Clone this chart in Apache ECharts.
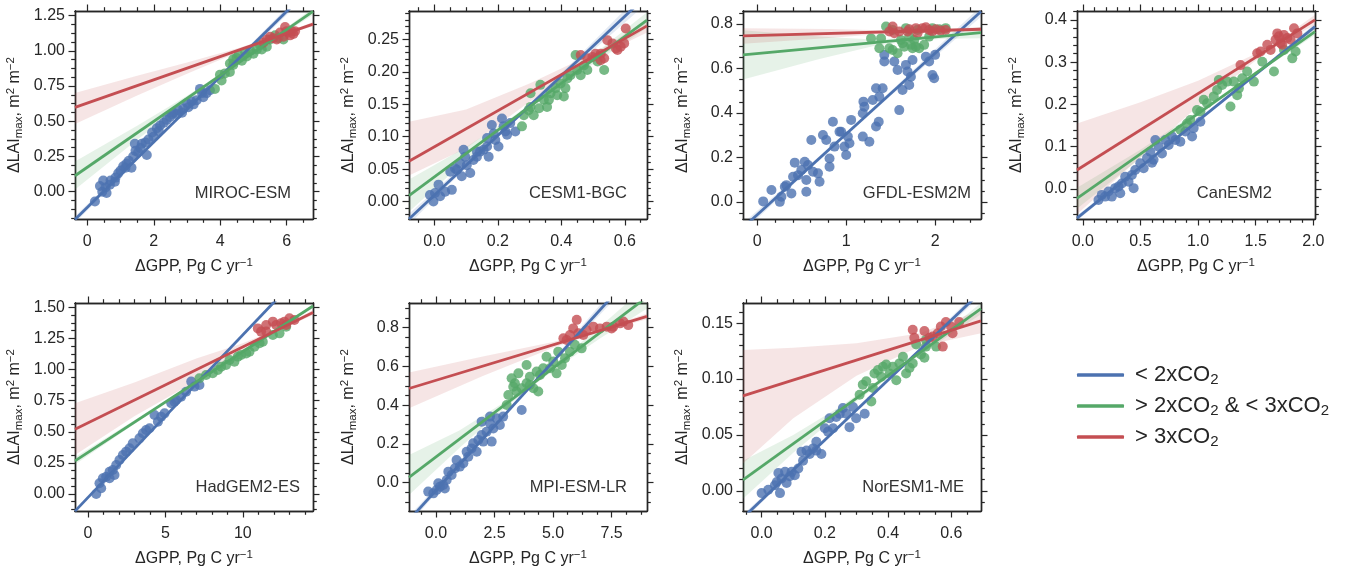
<!DOCTYPE html>
<html lang="en">
<head>
<meta charset="utf-8">
<title>dLAImax vs dGPP</title>
<script src="https://cdn.jsdelivr.net/npm/echarts@6.0.0/dist/echarts.min.js"></script>
<style>
  html, body { margin: 0; padding: 0; background: #fff; }
  #chart { width: 1349px; height: 571px; }
</style>
</head>
<body>
<div id="chart"></div>
<script>
// models, one panel each
var models = ['MIROC-ESM', 'CESM1-BGC', 'GFDL-ESM2M', 'CanESM2', 'HadGEM2-ES', 'MPI-ESM-LR', 'NorESM1-ME'];
var groups = ['< 2xCO2', '> 2xCO2 & < 3xCO2', '> 3xCO2'];

// scatter points [dGPP, dLAImax]
var lowPts = [
  [[0.23,-0.07],[0.38,0.04],[0.45,0.0],[0.48,0.08],[0.55,0.03],[0.58,-0.01],[0.68,0.05],[0.7,0.08],[0.83,0.07],[0.85,0.1],[0.93,0.13],[1.0,0.15],[1.08,0.18],[1.15,0.17],[1.18,0.2],[1.25,0.22],[1.33,0.17],[1.38,0.25],[1.43,0.34],[1.45,0.29],[1.53,0.28],[1.6,0.31],[1.64,0.34],[1.75,0.35],[1.79,0.26],[1.84,0.37],[1.95,0.42],[1.99,0.39],[2.09,0.45],[2.15,0.43],[2.19,0.47],[2.3,0.49],[2.39,0.51],[2.49,0.53],[2.55,0.55],[2.59,0.56],[2.7,0.55],[2.74,0.58],[2.85,0.56],[2.89,0.59],[3.0,0.63],[3.04,0.6],[3.14,0.64],[3.2,0.62],[3.29,0.65],[3.39,0.73],[3.45,0.7],[3.49,0.67],[3.59,0.7],[3.69,0.72]],
  [[-0.014,0.010],[-0.003,0.0],[0.002,0.013],[0.013,0.026],[0.018,0.008],[0.034,0.015],[0.050,0.046],[0.055,0.018],[0.065,0.051],[0.071,0.049],[0.081,0.059],[0.086,0.039],[0.092,0.080],[0.097,0.069],[0.102,0.056],[0.113,0.044],[0.123,0.064],[0.134,0.069],[0.134,0.077],[0.144,0.077],[0.155,0.080],[0.166,0.085],[0.166,0.098],[0.171,0.069],[0.181,0.118],[0.187,0.105],[0.192,0.095],[0.202,0.085],[0.213,0.128],[0.218,0.116],[0.224,0.108],[0.229,0.103],[0.239,0.121],[0.255,0.108]],
  [[0.067,0.003],[0.16,0.054],[0.254,0.001],[0.272,0.024],[0.31,0.069],[0.328,0.076],[0.384,0.039],[0.403,0.114],[0.422,0.177],[0.459,0.121],[0.496,0.144],[0.534,0.181],[0.552,0.099],[0.552,0.046],[0.571,0.166],[0.608,0.279],[0.627,0.136],[0.683,0.129],[0.701,0.091],[0.739,0.301],[0.776,0.279],[0.813,0.196],[0.813,0.159],[0.851,0.361],[0.869,0.249],[0.925,0.316],[0.944,0.316],[0.981,0.249],[1.0,0.211],[1.019,0.294],[1.037,0.264],[1.056,0.369],[1.187,0.294],[1.187,0.399],[1.194,0.451],[1.205,0.428],[1.261,0.271],[1.299,0.458],[1.336,0.339],[1.336,0.511],[1.366,0.361],[1.373,0.473],[1.41,0.511],[1.429,0.661],[1.429,0.631],[1.541,0.631],[1.578,0.593],[1.597,0.413],[1.634,0.503],[1.672,0.616],[1.69,0.586],[1.709,0.526],[1.728,0.563],[1.746,0.638],[1.896,0.653],[1.933,0.631],[1.97,0.571],[1.989,0.556],[2.0,0.661]],
  [[0.136,-0.026],[0.165,-0.014],[0.194,-0.018],[0.223,-0.006],[0.252,-0.018],[0.281,0.002],[0.31,0.006],[0.325,-0.010],[0.339,0.013],[0.368,0.029],[0.397,0.017],[0.426,0.033],[0.441,0.002],[0.455,0.045],[0.499,0.061],[0.528,0.049],[0.557,0.073],[0.586,0.088],[0.6,0.062],[0.614,0.069],[0.629,0.116],[0.658,0.100],[0.687,0.084],[0.716,0.116],[0.745,0.104],[0.774,0.124],[0.803,0.116],[0.846,0.112],[0.89,0.136],[0.948,0.124],[0.962,0.144],[1.02,0.159]],
  [[0.54,0.0],[0.75,0.086],[0.86,0.046],[0.97,0.126],[1.18,0.139],[1.4,0.179],[1.4,0.126],[1.61,0.193],[1.72,0.153],[1.83,0.233],[2.04,0.273],[2.26,0.313],[2.47,0.340],[2.69,0.367],[2.9,0.407],[3.33,0.447],[3.55,0.488],[3.76,0.514],[3.98,0.528],[4.3,0.635],[4.52,0.581],[4.73,0.621],[4.95,0.648],[5.38,0.729],[5.59,0.742],[5.7,0.755],[6.02,0.782],[6.34,0.822],[6.67,0.903],[6.88,0.863],[7.2,0.876]],
  [[-0.33,-0.046],[-0.11,-0.055],[0.03,-0.038],[0.1,-0.003],[0.17,-0.021],[0.31,-0.012],[0.38,-0.030],[0.46,0.014],[0.53,0.057],[0.67,0.040],[0.81,0.074],[0.88,0.117],[1.02,0.083],[1.17,0.100],[1.31,0.160],[1.38,0.134],[1.52,0.177],[1.59,0.203],[1.74,0.160],[1.81,0.220],[1.95,0.246],[1.95,0.315],[2.02,0.212],[2.16,0.263],[2.31,0.306],[2.31,0.341],[2.38,0.212],[2.45,0.280],[2.59,0.332],[2.73,0.298],[2.87,0.341],[3.66,0.375]],
  [[0.0,-0.002],[0.021,0.001],[0.042,0.005],[0.048,0.008],[0.053,0.016],[0.058,-0.002],[0.063,0.011],[0.074,0.017],[0.079,0.007],[0.089,0.013],[0.095,0.017],[0.105,0.014],[0.116,0.020],[0.126,0.035],[0.131,0.027],[0.142,0.036],[0.152,0.033],[0.163,0.038],[0.173,0.036],[0.173,0.044],[0.189,0.033],[0.2,0.056],[0.21,0.053],[0.215,0.065],[0.226,0.056],[0.236,0.066],[0.247,0.069],[0.257,0.074],[0.268,0.069],[0.278,0.057],[0.289,0.075],[0.299,0.065],[0.326,0.069]]
];
var midPts = [
  [[3.84,0.73],[3.99,0.83],[4.04,0.79],[4.14,0.84],[4.29,0.91],[4.29,0.85],[4.39,0.94],[4.39,0.9],[4.49,0.95],[4.55,0.97],[4.65,0.93],[4.75,0.99],[4.8,0.96],[4.9,1.0],[5.0,0.98],[5.1,1.01],[5.2,1.04],[5.25,1.01],[5.4,1.03],[5.5,1.08],[5.65,1.11],[5.75,1.09],[5.9,1.08]],
  [[0.276,0.116],[0.282,0.133],[0.297,0.141],[0.303,0.167],[0.303,0.146],[0.313,0.133],[0.33,0.144],[0.334,0.180],[0.345,0.157],[0.355,0.146],[0.361,0.157],[0.366,0.167],[0.382,0.175],[0.387,0.164],[0.398,0.182],[0.408,0.162],[0.413,0.175],[0.419,0.190],[0.429,0.195],[0.445,0.226],[0.45,0.203],[0.461,0.195],[0.471,0.210],[0.482,0.203],[0.514,0.216],[0.535,0.203]],
  [[1.28,0.735],[1.373,0.691],[1.392,0.735],[1.448,0.788],[1.485,0.691],[1.522,0.683],[1.522,0.773],[1.578,0.668],[1.616,0.728],[1.634,0.713],[1.653,0.698],[1.672,0.781],[1.709,0.743],[1.728,0.706],[1.746,0.691],[1.765,0.728],[1.784,0.698],[1.802,0.773],[1.821,0.691],[1.877,0.706],[1.933,0.743],[1.97,0.781],[2.045,0.776],[2.119,0.781]],
  [[0.846,0.140],[0.904,0.155],[0.933,0.163],[0.991,0.187],[1.02,0.183],[1.049,0.211],[1.078,0.203],[1.136,0.219],[1.165,0.234],[1.18,0.258],[1.209,0.246],[1.252,0.254],[1.281,0.195],[1.31,0.254],[1.339,0.222],[1.354,0.238],[1.383,0.262],[1.426,0.278],[1.484,0.254],[1.557,0.301],[1.658,0.278],[1.745,0.329],[1.817,0.309],[1.846,0.325]],
  [[7.2,0.930],[7.63,0.956],[8.06,0.970],[8.39,0.997],[8.6,1.023],[8.92,1.037],[9.14,1.077],[9.46,1.063],[9.68,1.104],[9.89,1.117],[10.22,1.130],[10.43,1.144],[10.75,1.184],[11.08,1.211],[11.29,1.224],[11.94,1.278],[12.37,1.291],[12.8,1.345]],
  [[3.02,0.401],[3.09,0.452],[3.23,0.539],[3.30,0.495],[3.37,0.513],[3.44,0.470],[3.52,0.564],[3.66,0.487],[3.87,0.513],[3.87,0.607],[4.01,0.504],[4.01,0.547],[4.16,0.487],[4.30,0.573],[4.37,0.470],[4.44,0.556],[4.58,0.590],[4.72,0.650],[4.87,0.590],[5.01,0.625],[5.15,0.564],[5.22,0.676],[5.37,0.607],[5.51,0.642],[5.72,0.676],[5.93,0.711],[6.22,0.693]],
  [[0.31,0.086],[0.32,0.095],[0.331,0.098],[0.347,0.080],[0.352,0.092],[0.357,0.105],[0.368,0.108],[0.378,0.102],[0.384,0.111],[0.394,0.113],[0.405,0.105],[0.415,0.111],[0.426,0.099],[0.436,0.114],[0.447,0.120],[0.457,0.105],[0.468,0.110],[0.478,0.114],[0.489,0.131],[0.504,0.122],[0.515,0.119],[0.52,0.129],[0.52,0.135],[0.552,0.129]]
];
var highPts = [
  [[5.3,1.06],[5.4,1.08],[5.5,1.1],[5.6,1.09],[5.7,1.08],[5.8,1.13],[5.9,1.1],[5.95,1.17],[6.0,1.14],[6.05,1.13],[6.1,1.11],[6.15,1.14],[6.2,1.12],[6.25,1.14]],
  [[0.461,0.226],[0.482,0.221],[0.498,0.223],[0.508,0.228],[0.524,0.218],[0.524,0.228],[0.535,0.221],[0.545,0.249],[0.561,0.244],[0.572,0.236],[0.577,0.234],[0.587,0.239],[0.598,0.244],[0.603,0.267]],
  [[1.485,0.766],[1.522,0.788],[1.541,0.758],[1.597,0.766],[1.69,0.766],[1.709,0.776],[1.784,0.781],[1.802,0.758],[1.858,0.781],[1.896,0.785],[1.933,0.773],[1.97,0.766],[2.007,0.776],[2.063,0.770],[2.119,0.773]],
  [[1.368,0.293],[1.513,0.321],[1.542,0.325],[1.6,0.341],[1.629,0.329],[1.672,0.353],[1.687,0.368],[1.701,0.361],[1.716,0.345],[1.73,0.341],[1.745,0.364],[1.774,0.357],[1.803,0.353],[1.832,0.380],[1.861,0.368]],
  [[10.97,1.331],[11.18,1.305],[11.51,1.358],[11.51,1.305],[11.94,1.385],[12.15,1.358],[12.47,1.372],[12.69,1.385],[12.8,1.358],[13.01,1.412],[13.33,1.398]],
  [[5.44,0.745],[5.58,0.736],[5.72,0.762],[5.86,0.796],[6.01,0.840],[6.08,0.771],[6.29,0.762],[6.43,0.788],[6.72,0.805],[7.0,0.796],[7.29,0.805],[7.5,0.796],[7.57,0.805],[7.86,0.822],[8.0,0.831],[8.21,0.813]],
  [[0.478,0.144],[0.483,0.137],[0.515,0.143],[0.531,0.137],[0.541,0.138],[0.557,0.141],[0.567,0.147],[0.573,0.129],[0.583,0.151],[0.599,0.147],[0.604,0.141],[0.625,0.151]]
];

// fitted lines, two points each [x, y]
var lowFit = [
  [[-0.37,-0.197],[6.79,1.464]], [[-0.08,-0.027],[0.67,0.318]], [[-0.16,-0.115],[2.516,0.856]],
  [[-0.05,-0.069],[2.014,0.384]], [[-0.83,-0.138],[14.53,1.871]], [[-1.15,-0.193],[9.01,1.158]],
  [[-0.059,-0.024],[0.694,0.178]]
];
var midFit = [
  [[-0.37,0.113],[6.79,1.28]], [[-0.08,0.009],[0.67,0.280]], [[-0.16,0.661],[2.516,0.761]],
  [[-0.05,-0.022],[2.014,0.372]], [[-0.83,0.266],[14.53,1.511]], [[-1.15,0.027],[9.01,0.958]],
  [[-0.059,0.0098],[0.694,0.163]]
];
var highFit = [
  [[-0.37,0.599],[6.79,1.19]], [[-0.08,0.062],[0.67,0.271]], [[-0.16,0.746],[2.516,0.776]],
  [[-0.05,0.045],[2.014,0.40]], [[-0.83,0.521],[14.53,1.458]], [[-1.15,0.486],[9.01,0.858]],
  [[-0.059,0.0849],[0.694,0.152]]
];

// confidence bands [x, lower, upper]
var lowBand = [
  [[-0.37,-0.222,-0.172],[1.5,0.226,0.248],[3,0.578,0.592],[4.5,0.921,0.945],[6.79,1.43,1.50]],
  [[-0.08,-0.035,-0.019],[0.1,0.052,0.060],[0.25,0.122,0.128],[0.45,0.212,0.222],[0.67,0.306,0.330]],
  [[-0.16,-0.135,-0.095],[0.5,0.115,0.135],[1.0,0.298,0.314],[1.5,0.478,0.498],[2.516,0.832,0.880]],
  [[-0.05,-0.075,-0.063],[0.5,0.049,0.055],[1.0,0.158,0.164],[1.5,0.267,0.275],[2.014,0.377,0.391]],
  [[-0.83,-0.150,-0.126],[3,0.357,0.369],[6,0.750,0.760],[9,1.140,1.156],[14.53,1.85,1.89]],
  [[-1.15,-0.215,-0.171],[1,0.083,0.103],[3,0.350,0.368],[5,0.615,0.635],[9.01,1.12,1.20]],
  [[-0.059,-0.027,-0.021],[0.1,0.0178,0.0202],[0.3,0.0708,0.0732],[0.5,0.1245,0.1275],[0.694,0.174,0.182]]
];
var midBand = [
  [[-0.37,0.015,0.215],[1.5,0.368,0.468],[3,0.642,0.682],[4.5,0.899,0.915],[5.5,1.062,1.078],[6.79,1.255,1.305]],
  [[-0.08,-0.016,0.034],[0.1,0.064,0.084],[0.25,0.124,0.132],[0.4,0.179,0.187],[0.67,0.268,0.292]],
  [[-0.16,0.55,0.772],[0.7,0.643,0.743],[1.3,0.700,0.730],[1.7,0.722,0.738],[2.1,0.733,0.757],[2.516,0.736,0.786]],
  [[-0.05,-0.047,0.003],[0.5,0.073,0.093],[1.2,0.213,0.221],[1.6,0.289,0.297],[2.014,0.364,0.380]],
  [[-0.83,0.236,0.296],[3,0.562,0.592],[7,0.896,0.908],[10,1.141,1.149],[14.53,1.50,1.52]],
  [[-1.15,-0.064,0.143],[1,0.179,0.269],[3,0.392,0.422],[5,0.579,0.603],[7,0.744,0.804],[9.01,0.898,1.018]],
  [[-0.059,-0.007,0.027],[0.1,0.034,0.050],[0.25,0.0697,0.0757],[0.4,0.101,0.105],[0.55,0.131,0.135],[0.694,0.158,0.168]]
];
var highBand = [
  [[-0.37,0.48,0.70],[1.5,0.683,0.823],[3,0.837,0.917],[4.5,0.986,1.016],[5.9,1.110,1.122],[6.79,1.175,1.205]],
  [[-0.08,0.040,0.123],[0.1,0.082,0.142],[0.3,0.154,0.182],[0.52,0.225,0.233],[0.67,0.261,0.281]],
  [[-0.16,0.711,0.781],[0.8,0.737,0.777],[1.5,0.758,0.770],[1.9,0.765,0.773],[2.516,0.766,0.786]],
  [[-0.05,-0.06,0.155],[0.5,0.075,0.205],[1.0,0.196,0.256],[1.5,0.304,0.320],[1.75,0.350,0.360],[2.014,0.388,0.412]],
  [[-0.83,0.313,0.729],[3,0.625,0.895],[7,0.909,1.089],[10,1.152,1.212],[12.3,1.314,1.330],[14.53,1.438,1.478]],
  [[-1.15,0.384,0.569],[2,0.551,0.651],[5,0.696,0.726],[6.8,0.771,0.783],[9.01,0.843,0.873]],
  [[-0.059,0.0245,0.126],[0.1,0.065,0.128],[0.3,0.103,0.132],[0.5,0.129,0.141],[0.694,0.141,0.162]]
];

// axis limits and tick spacing
var xLim = [[-0.37,6.79],[-0.08,0.67],[-0.16,2.516],[-0.05,2.014],[-0.83,14.53],[-1.15,9.01],[-0.059,0.694]];
var yLim = [[-0.194,1.283],[-0.027,0.294],[-0.076,0.858],[-0.071,0.421],[-0.137,1.535],[-0.146,0.927],[-0.018,0.168]];
var xStep = [2, 0.2, 1, 0.5, 5, 2.5, 0.2];
var xMinor = [0.5, 0.05, 0.2, 0.1, 1, 0.625, 0.05];
var xDec = [0, 1, 0, 1, 0, 1, 1];
var yStep = [0.25, 0.05, 0.2, 0.1, 0.25, 0.2, 0.05];
var yMinor = [0.0625, 0.01, 0.05, 0.02, 0.0625, 0.05, 0.01];
var yDec = [2, 2, 1, 1, 2, 1, 2];

var legendText = ['{p|}{n|< 2xCO}{s|2}', '{p|}{n|> 2xCO}{s|2}{n| & < 3xCO}{s|2}', '{p|}{n|> 3xCO}{s|2}'];

// layout
var gridLeft = [75, 409, 743, 1077, 75, 409, 743];
var gridTop = [11, 11, 11, 11, 303, 303, 303];
var labelPos = [[291,193],[627,193],[971,193],[1272,193],[300,487],[627,487],[964,487]];
var colors = ['#4c72b0', '#55a868', '#c44e52'];
var bandColors = ['rgba(76,114,176,0.15)', 'rgba(85,168,104,0.15)', 'rgba(196,78,82,0.15)'];
var ink = '#262626';
var font = '"Liberation Sans", Arial, Helvetica, sans-serif';

var myChart = echarts.init(document.getElementById('chart'));

function multiples(lim, step) {
  var out = [];
  var k0 = Math.ceil(lim[0] / step - 1e-9), k1 = Math.floor(lim[1] / step + 1e-9);
  for (var k = k0; k <= k1; k++) out.push(+(k * step).toFixed(6));
  return out;
}
function minorsOf(lim, step, minor) {
  return multiples(lim, minor).filter(function (v) {
    return Math.abs(v / step - Math.round(v / step)) > 1e-6;
  });
}

var supRich = {
  n: { fontSize: 16, fontFamily: font, color: ink, lineHeight: 20, verticalAlign: 'middle' },
  u: { fontSize: 11.5, fontFamily: font, color: ink, lineHeight: 10, verticalAlign: 'top' },
  d: { fontSize: 11.5, fontFamily: font, color: ink, lineHeight: 10, verticalAlign: 'bottom' }
};

function makeAxis(dim, i, side, major) {
  var lim = dim === 'x' ? xLim[i] : yLim[i];
  var step = dim === 'x' ? xStep[i] : yStep[i];
  var minor = dim === 'x' ? xMinor[i] : yMinor[i];
  var vals = major ? multiples(lim, step) : minorsOf(lim, step, minor);
  var a = {
    type: 'value', gridIndex: i, position: side, min: lim[0], max: lim[1],
    silent: true,
    splitLine: { show: false },
    minorTick: { show: false },
    axisLine: { show: true, onZero: false, lineStyle: { color: ink, width: 1.4 } },
    axisTick: { show: true, inside: false, length: major ? 6.5 : 3.8, customValues: vals,
                lineStyle: { color: ink, width: 1.2 } },
    axisLabel: { show: false },
    axisPointer: { show: false }
  };
  if (major && (side === 'bottom' || side === 'left')) {
    var dec = dim === 'x' ? xDec[i] : yDec[i];
    a.axisLabel = {
      show: true, customValues: vals, color: ink, fontSize: 16, fontFamily: font,
      margin: side === 'bottom' ? 15 : 10,
      formatter: function (v) { return (+v).toFixed(dec); }
    };
    a.nameLocation = 'middle';
    a.nameMoveOverlap = false;
    a.nameTextStyle = { rich: supRich };
    if (dim === 'x') {
      a.name = '{n|ΔGPP, Pg C yr}{u|−1}';
      a.nameGap = 38;
    } else {
      a.name = '{n|ΔLAI}{d|max}{n|, m}{u|2}{n| m}{u|−2}';
      a.nameGap = 50;
    }
  }
  return a;
}

function bandSeries(i, band, color) {
  return {
    type: 'custom', xAxisIndex: 4 * i, yAxisIndex: 4 * i, silent: true,
    data: band, encode: { x: 0, y: [1, 2] },
    renderItem: function (params, api) {
      if (params.dataIndex !== 0) return null;
      var up = band.map(function (d) { return api.coord([d[0], d[2]]); });
      var lo = band.map(function (d) { return api.coord([d[0], d[1]]); }).reverse();
      var cs = params.coordSys;
      return {
        type: 'polygon',
        shape: { points: up.concat(lo) },
        style: { fill: color },
        clipPath: { type: 'rect', shape: { x: cs.x, y: cs.y, width: cs.width, height: cs.height } }
      };
    }
  };
}

var grids = [], xAxes = [], yAxes = [], series = [], graphics = [];
var ptsAll = [lowPts, midPts, highPts];
var fitAll = [lowFit, midFit, highFit];
var bandAll = [lowBand, midBand, highBand];

for (var i = 0; i < models.length; i++) {
  grids.push({ left: gridLeft[i], top: gridTop[i], width: 238, height: 208,
               containLabel: false, outerBoundsMode: 'none' });
  xAxes.push(makeAxis('x', i, 'bottom', true), makeAxis('x', i, 'bottom', false),
             makeAxis('x', i, 'top', true), makeAxis('x', i, 'top', false));
  yAxes.push(makeAxis('y', i, 'left', true), makeAxis('y', i, 'left', false),
             makeAxis('y', i, 'right', true), makeAxis('y', i, 'right', false));
  for (var g = 0; g < 3; g++) {
    series.push({
      type: 'scatter', name: 'pts' + g, xAxisIndex: 4 * i, yAxisIndex: 4 * i, silent: true,
      data: ptsAll[g][i], symbolSize: 10,
      itemStyle: { color: colors[g], opacity: 0.8 }
    });
    series.push(bandSeries(i, bandAll[g][i], bandColors[g]));
    series.push({
      type: 'line', name: groups[g], xAxisIndex: 4 * i, yAxisIndex: 4 * i, silent: true,
      data: fitAll[g][i], showSymbol: false, symbol: 'none', clip: true,
      color: colors[g], itemStyle: { color: colors[g] },
      lineStyle: { color: colors[g], width: 2.8 }
    });
  }
  graphics.push({
    type: 'text', x: labelPos[i][0], y: labelPos[i][1], silent: true,
    style: { text: models[i], align: 'right', verticalAlign: 'middle',
             fill: '#333', fontSize: 16.5, fontFamily: font }
  });
}

var option = {
  animation: false,
  backgroundColor: '#fff',
  textStyle: { fontFamily: font },
  grid: grids,
  xAxis: xAxes,
  yAxis: yAxes,
  legend: {
    data: groups, orient: 'vertical', left: 1072, top: 359,
    itemWidth: 47, itemHeight: 3.5, itemGap: 8, icon: 'roundRect',
    selectedMode: false,
    formatter: function (name) { return legendText[groups.indexOf(name)]; },
    textStyle: {
      color: ink, fontSize: 22, fontFamily: font,
      rich: {
        p: { width: 6 },
        n: { fontSize: 22, fontFamily: font, color: ink, lineHeight: 24, verticalAlign: 'middle' },
        s: { fontSize: 15, fontFamily: font, color: ink, lineHeight: 13, verticalAlign: 'bottom' }
      }
    }
  },
  graphic: graphics,
  series: series
};
myChart.setOption(option);
</script>
</body>
</html>
